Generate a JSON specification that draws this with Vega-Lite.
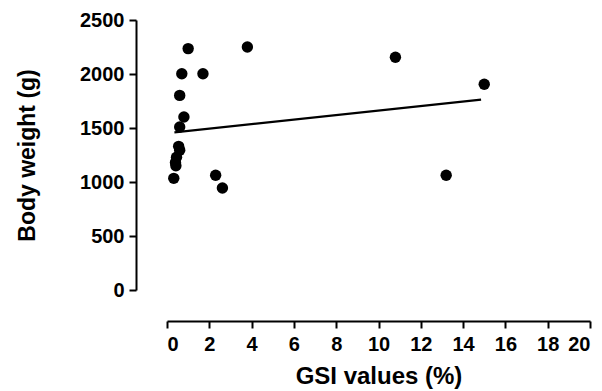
{
  "$schema": "https://vega.github.io/schema/vega-lite/v6.json",
  "width": 423,
  "height": 270,
  "autosize": {"type": "none"},
  "padding": {"left": 167, "top": 20, "right": 12, "bottom": 101},
  "background": "white",
  "config": {
    "view": {"stroke": null},
    "font": "Liberation Sans",
    "axis": {
      "grid": false,
      "domainColor": "black",
      "domainWidth": 2,
      "tickColor": "black",
      "tickWidth": 2,
      "tickSize": 7,
      "labelFont": "Liberation Sans",
      "labelFontWeight": "bold",
      "labelFontSize": 20,
      "labelColor": "black",
      "titleFont": "Liberation Sans",
      "titleFontWeight": "bold",
      "titleColor": "black",
      "offset": 31,
      "format": "d"
    }
  },
  "datasets": {
    "pts": [
      {"gsi": 1.0, "bw": 2235},
      {"gsi": 3.8, "bw": 2250},
      {"gsi": 10.8, "bw": 2155},
      {"gsi": 15.0, "bw": 1905},
      {"gsi": 13.2, "bw": 1062},
      {"gsi": 0.7, "bw": 2003},
      {"gsi": 1.7, "bw": 2003},
      {"gsi": 0.6, "bw": 1802},
      {"gsi": 0.8, "bw": 1602},
      {"gsi": 0.6, "bw": 1509},
      {"gsi": 0.55, "bw": 1330},
      {"gsi": 0.6, "bw": 1295},
      {"gsi": 0.45, "bw": 1230},
      {"gsi": 0.4, "bw": 1180},
      {"gsi": 0.42, "bw": 1150},
      {"gsi": 0.32, "bw": 1034},
      {"gsi": 2.3, "bw": 1062},
      {"gsi": 2.62, "bw": 944}
    ],
    "fit": [
      {"gsi": 0.35, "bw": 1460},
      {"gsi": 14.85, "bw": 1762}
    ]
  },
  "layer": [
    {
      "data": {"name": "fit"},
      "mark": {"type": "line", "color": "black", "strokeWidth": 2.2},
      "encoding": {
        "x": {"field": "gsi", "type": "quantitative"},
        "y": {"field": "bw", "type": "quantitative"}
      }
    },
    {
      "data": {"name": "pts"},
      "mark": {"type": "point", "filled": true, "color": "black", "opacity": 1, "size": 130},
      "encoding": {
        "x": {
          "field": "gsi", "type": "quantitative",
          "scale": {"domain": [0, 20], "nice": false},
          "axis": {"title": "GSI values (%)", "titleFontSize": 24, "values": [0,2,4,6,8,10,12,14,16,18,20], "labelPadding": 6, "titlePadding": 10}
        },
        "y": {
          "field": "bw", "type": "quantitative",
          "scale": {"domain": [0, 2500], "nice": false},
          "axis": {"title": "Body weight (g)", "titleFontSize": 23, "values": [0,500,1000,1500,2000,2500], "labelPadding": 5, "titlePadding": 40}
        }
      }
    }
  ]
}
